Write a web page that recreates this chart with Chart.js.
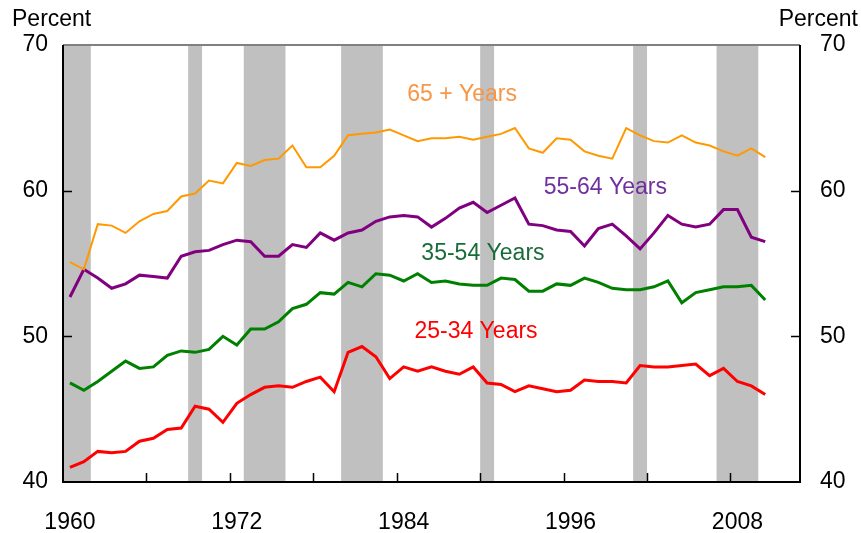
<!DOCTYPE html>
<html>
<head>
<meta charset="utf-8">
<script src="https://cdn.jsdelivr.net/npm/chart.js@4"></script>
<style>
  html, body { margin: 0; padding: 0; background: #fff; }
  #wrap { width: 861px; height: 533px; }
</style>
</head>
<body>
<div id="wrap"><canvas id="chart" width="861" height="533"></canvas></div>
<script>
const years = [1960, 1961, 1962, 1963, 1964, 1965, 1966, 1967, 1968, 1969,
  1970, 1971, 1972, 1973, 1974, 1975, 1976, 1977, 1978, 1979,
  1980, 1981, 1982, 1983, 1984, 1985, 1986, 1987, 1988, 1989,
  1990, 1991, 1992, 1993, 1994, 1995, 1996, 1997, 1998, 1999,
  2000, 2001, 2002, 2003, 2004, 2005, 2006, 2007, 2008, 2009, 2010];

const age65plus = [55.1, 54.6, 57.7, 57.6, 57.1, 57.9, 58.4, 58.6, 59.6, 59.8,
  60.7, 60.5, 61.9, 61.7, 62.1, 62.2, 63.1, 61.6, 61.6, 62.4,
  63.8, 63.9, 64.0, 64.2, 63.8, 63.4, 63.6, 63.6, 63.7, 63.5,
  63.7, 63.9, 64.3, 62.9, 62.6, 63.6, 63.5, 62.7, 62.4, 62.2,
  64.3, 63.8, 63.4, 63.3, 63.8, 63.3, 63.1, 62.7, 62.4, 62.9, 62.3];

const age55to64 = [52.7, 54.6, 54.0, 53.3, 53.6, 54.2, 54.1, 54.0, 55.5, 55.8,
  55.9, 56.3, 56.6, 56.5, 55.5, 55.5, 56.3, 56.1, 57.1, 56.6,
  57.1, 57.3, 57.9, 58.2, 58.3, 58.2, 57.5, 58.1, 58.8, 59.2,
  58.5, 59.0, 59.5, 57.7, 57.6, 57.3, 57.2, 56.2, 57.4, 57.7,
  56.9, 56.0, 57.1, 58.3, 57.7, 57.5, 57.7, 58.7, 58.7, 56.8, 56.5];

const age35to54 = [46.8, 46.3, 46.9, 47.6, 48.3, 47.8, 47.9, 48.7, 49.0, 48.9,
  49.1, 50.0, 49.4, 50.5, 50.5, 51.0, 51.9, 52.2, 53.0, 52.9,
  53.7, 53.4, 54.3, 54.2, 53.8, 54.3, 53.7, 53.8, 53.6, 53.5,
  53.5, 54.0, 53.9, 53.1, 53.1, 53.6, 53.5, 54.0, 53.7, 53.3,
  53.2, 53.2, 53.4, 53.8, 52.3, 53.0, 53.2, 53.4, 53.4, 53.5, 52.5];

const age25to34 = [41.0, 41.4, 42.1, 42.0, 42.1, 42.8, 43.0, 43.6, 43.7, 45.2,
  45.0, 44.1, 45.4, 46.0, 46.5, 46.6, 46.5, 46.9, 47.2, 46.2,
  48.9, 49.3, 48.6, 47.1, 47.9, 47.6, 47.9, 47.6, 47.4, 47.9,
  46.8, 46.7, 46.2, 46.6, 46.4, 46.2, 46.3, 47.0, 46.9, 46.9,
  46.8, 48.0, 47.9, 47.9, 48.0, 48.1, 47.3, 47.8, 46.9, 46.6, 46.0];

const xTickLabels = ['1960', '1972', '1984', '1996', '2008'];
const xTickMarks = [1966, 1972, 1978, 1984, 1990, 1996, 2002, 2008];
const yTickMarks = [50, 60];

// recessions, shaded as whole calendar years
const recessionStart = [1960, 1969, 1973, 1980, 1990, 2001, 2007];
const recessionEnd = [1962, 1970, 1976, 1983, 1991, 2002, 2010];

const seriesLabels = ['65 + Years', '55-64 Years', '35-54 Years', '25-34 Years'];
const labelYear = [1988.7, 1999.0, 1990.2, 1989.7];
const labelValue = [66.6, 60.2, 55.7, 50.3];

const lineColors = ['#FF9900', '#800080', '#008000', '#FF0000'];
const textColors = ['#F79646', '#7030A0', '#1A6B3A', '#FF0000'];
const lineWidths = [2, 3, 3, 3];

const toPoints = (vals) => vals.map((v, i) => ({ x: years[i] + 0.5, y: v }));

const FONT = "'Liberation Sans', Arial, sans-serif";

const recessionPlugin = {
  id: 'recessions',
  beforeDatasetsDraw(chart) {
    const { ctx, chartArea, scales } = chart;
    ctx.save();
    ctx.fillStyle = '#C0C0C0';
    recessionStart.forEach((s, i) => {
      const x0 = scales.x.getPixelForValue(s);
      const x1 = scales.x.getPixelForValue(recessionEnd[i]);
      ctx.fillRect(x0, chartArea.top, x1 - x0, chartArea.bottom - chartArea.top);
    });
    ctx.restore();
  }
};

const framePlugin = {
  id: 'frame',
  afterDatasetsDraw(chart) {
    const { ctx, chartArea: a, scales } = chart;
    ctx.save();
    // frame
    ctx.lineWidth = 2;
    ctx.strokeStyle = '#808080';
    ctx.beginPath();
    ctx.moveTo(a.left, a.top);
    ctx.lineTo(a.right, a.top);
    ctx.stroke();
    ctx.strokeStyle = '#000';
    ctx.beginPath();
    ctx.moveTo(a.left, a.top);
    ctx.lineTo(a.left, a.bottom);
    ctx.lineTo(a.right, a.bottom);
    ctx.lineTo(a.right, a.top);
    ctx.stroke();
    // inside tick marks
    ctx.lineWidth = 1.5;
    ctx.beginPath();
    xTickMarks.forEach((t) => {
      const x = Math.round(scales.x.getPixelForValue(t)) + 0.5;
      ctx.moveTo(x, a.bottom);
      ctx.lineTo(x, a.bottom - 9);
    });
    yTickMarks.forEach((t) => {
      const y = Math.round(scales.y.getPixelForValue(t)) + 0.5;
      ctx.moveTo(a.left, y);
      ctx.lineTo(a.left + 9, y);
      ctx.moveTo(a.right, y);
      ctx.lineTo(a.right - 9, y);
    });
    ctx.stroke();

    // series labels
    ctx.font = '23px ' + FONT;
    ctx.textAlign = 'center';
    ctx.textBaseline = 'middle';
    seriesLabels.forEach((t, i) => {
      ctx.fillStyle = textColors[i];
      ctx.fillText(t, scales.x.getPixelForValue(labelYear[i]), scales.y.getPixelForValue(labelValue[i]));
    });

    // axis titles
    ctx.fillStyle = '#000';
    ctx.font = '23px ' + FONT;
    ctx.textAlign = 'left';
    ctx.fillText('Percent', 12, 20);
    ctx.textAlign = 'right';
    ctx.fillText('Percent', 858, 20);
    ctx.restore();
  }
};

const yTicks = {
  stepSize: 10,
  color: '#000',
  font: { family: FONT, size: 23 },
};

new Chart(document.getElementById('chart'), {
  type: 'line',
  data: {
    datasets: [age65plus, age55to64, age35to54, age25to34].map((vals, i) => ({
      label: seriesLabels[i],
      data: toPoints(vals),
      borderColor: lineColors[i],
      borderWidth: lineWidths[i],
      pointRadius: 0,
      tension: 0,
      fill: false,
    })),
  },
  options: {
    responsive: false,
    animation: false,
    layout: { padding: { top: 45, right: 0, bottom: 0, left: 0 } },
    plugins: { legend: { display: false }, tooltip: { enabled: false } },
    scales: {
      x: {
        type: 'linear',
        min: 1960,
        max: 2013,
        grid: { display: false },
        border: { display: false },
        afterBuildTicks: (scale) => {
          scale.ticks = xTickLabels.map((l) => ({ value: Number(l) + 0.5 }));
        },
        afterFit: (scale) => { scale.height = 51; },
        ticks: {
          autoSkip: false,
          maxRotation: 0,
          padding: 19,
          color: '#000',
          font: { family: FONT, size: 23 },
          callback: (v) => String(Math.floor(v)),
        },
      },
      y: {
        position: 'left',
        min: 40,
        max: 70,
        grid: { display: false },
        border: { display: false },
        afterFit: (scale) => { scale.width = 63; },
        ticks: { ...yTicks, padding: 7 },
      },
      y2: {
        position: 'right',
        min: 40,
        max: 70,
        grid: { display: false },
        border: { display: false },
        afterFit: (scale) => { scale.width = 61; },
        ticks: { ...yTicks, padding: 12 },
      },
    },
  },
  plugins: [recessionPlugin, framePlugin],
});
</script>
</body>
</html>
